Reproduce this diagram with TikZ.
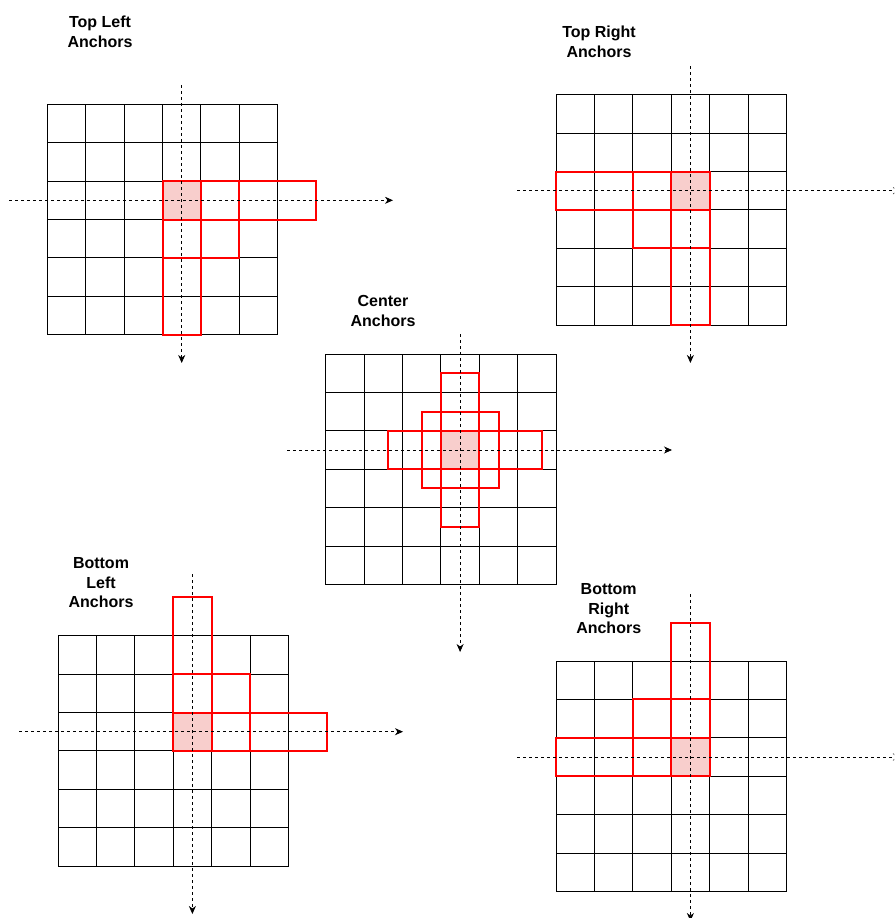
\documentclass[tikz,border=0pt]{standalone}
\usepackage{fontspec}
\setmainfont{Liberation Sans}
\usetikzlibrary{arrows.meta}
\definecolor{anchfill}{HTML}{F8CECC}
\definecolor{winred}{HTML}{FF0000}

\begin{document}
\begin{tikzpicture}[
    x=1pt, y=-1pt,
    lbl/.style={font=\fontsize{16}{19.5}\selectfont\bfseries, align=center, inner sep=0pt},
    cellbox/.style={draw=black, line width=0.9pt},
    anch/.style={fill=anchfill, minimum size=38.4pt, inner sep=0pt, outer sep=0pt},
    win/.style={draw=winred, line width=2pt, inner sep=0pt, outer sep=0pt},
    axis/.style={draw=black, line width=0.8pt, dash pattern=on 3pt off 3pt,
                 -{Stealth[length=8pt, width=7pt, inset=2.5pt]}}
  ]
    \clip (0,0) rectangle (894,918);

    % the five 6x6 grids
    \foreach \gx/\gy in {47.3/104.3, 556/94.7, 325.7/354, 58/635.7, 556/661}
      \foreach \c in {0,...,5}
        \foreach \r in {0,...,5}
          \draw[cellbox] (\gx+\c*38.4, \gy+\r*38.4) rectangle ++(38.4,38.4);

    % anchor cells
    \node[anch] (tlA) at (181.7,200.3) {};
    \node[anch] (trA) at (690.4,190.7) {};
    \node[anch] (ceA) at (460.1,450) {};
    \node[anch] (blA) at (192.4,731.7) {};
    \node[anch] (brA) at (690.4,757) {};

    % red windows at the corners: 4x1, 2x2, 1x4
    \foreach \a/\cn in {tl/north west, tr/north east, bl/south west, br/south east}
      \foreach \w/\h/\k in {4/1/h, 2/2/s, 1/4/v}
        \node[win, minimum width=\w*38.4pt, minimum height=\h*38.4pt, anchor=\cn]
          (\a\k) at (\a A.\cn) {};

    % centred windows
    \node[win, minimum width=153.6pt, minimum height=38.4pt] (ceh) at ([xshift=5pt]ceA) {};
    \node[win, minimum size=76.8pt] (ces) at (ceA) {};
    \node[win, minimum width=38.4pt, minimum height=153.6pt] (cev) at (ceA) {};

    % axes through the anchor cell
    \foreach \a/\xw/\xe/\yn/\ys in {tl/9/393/85/363, tr/517/901/66/363, ce/287/672/334/652,
                                    bl/19/403/574/914, br/517/901/594/921} {
      \coordinate (\a W) at (\xw,0 |- \a A);
      \coordinate (\a E) at (\xe,0 |- \a A);
      \coordinate (\a N) at (\a A |- 0,\yn);
      \coordinate (\a S) at (\a A |- 0,\ys);
      \draw[axis] (\a W) -- (\a E);
      \draw[axis] (\a N) -- (\a S);
    }

    \node[lbl] (tlL) at (100,32) {Top Left\\Anchors};
    \node[lbl] (trL) at (599,42) {Top Right\\Anchors};
    \node[lbl] (ceL) at (383,311) {Center\\Anchors};
    \node[lbl] (blL) at (101,583) {Bottom\\Left\\Anchors};
    \node[lbl] (brL) at (608.7,608.7) {Bottom\\Right\\Anchors};
  \end{tikzpicture}
\end{document}
